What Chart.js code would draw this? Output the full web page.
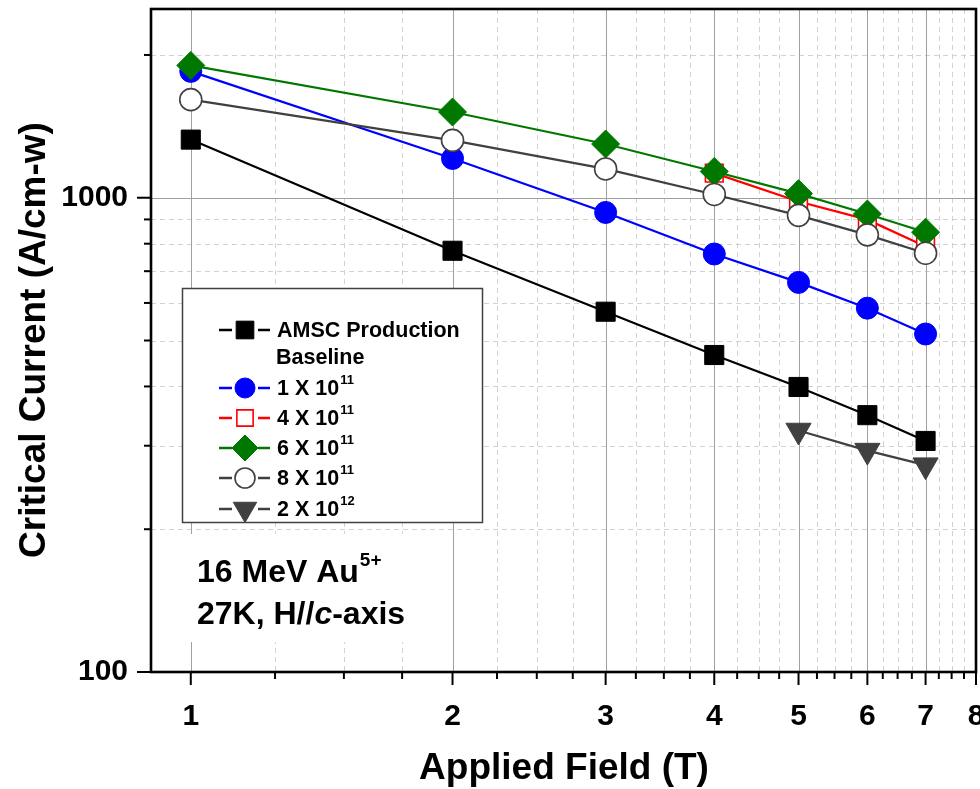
<!DOCTYPE html>
<html><head><meta charset="utf-8">
<script src="https://cdn.jsdelivr.net/npm/chart.js@4/dist/chart.umd.min.js"></script>
<style>html,body{margin:0;padding:0;background:#fff;}#wrap{width:980px;height:789px;position:relative;}</style>
</head><body><div id="wrap"><canvas id="c" width="980" height="789"></canvas></div>
<script>
// ---- data ----
const fields = [1, 2, 3, 4, 5, 6, 7];
const fields4e11 = [4, 5, 6, 7];
const fields2e12 = [5, 6, 7];
const amscBaseline = [1326, 773, 575, 466, 399, 348, 307];
const dose1e11 = [1847, 1210, 931, 761, 663, 585, 516];
const dose4e11 = [1127, 982, 899, 789];
const dose6e11 = [1901, 1516, 1298, 1136, 1020, 924, 846];
const dose8e11 = [1610, 1321, 1150, 1016, 918, 835, 764];
const dose2e12 = [323, 293, 273];
const xTickValues = [1, 2, 3, 4, 5, 6, 7, 8];
const yTickValues = [100, 1000];
const yMinorValues = [200, 300, 400, 500, 600, 700, 800, 900, 2000];
const xMinorValues = [];
for (let i = 1; i < 8; i++) { [0.25, 0.5, 0.75].forEach(f => xMinorValues.push(i + f)); }

const FONT = '"Liberation Sans", Arial, Helvetica, sans-serif';
const pts = (xs, ys) => xs.map((v, i) => ({x: v, y: ys[i]}));

const series = [
  {label: 'AMSC Production', label2: 'Baseline', data: pts(fields, amscBaseline), color: '#000000', fill: '#000000', style: 'rect', r: 13.5, bw: 1, rot: 0},
  {label: '1 X 10', sup: '11', data: pts(fields, dose1e11), color: '#0000ff', fill: '#0000ff', style: 'circle', r: 11, bw: 1, rot: 0},
  {label: '4 X 10', sup: '11', data: pts(fields4e11, dose4e11), color: '#ff0000', fill: '#ffffff', style: 'rect', r: 12.5, bw: 1.6, rot: 0},
  {label: '6 X 10', sup: '11', data: pts(fields, dose6e11), color: '#007800', fill: '#007800', style: 'rectRot', r: 14, bw: 1, rot: 0},
  {label: '8 X 10', sup: '11', data: pts(fields, dose8e11), color: '#404040', fill: '#ffffff', style: 'circle', r: 11, bw: 1.6, rot: 0},
  {label: '2 X 10', sup: '12', data: pts(fields2e12, dose2e12), color: '#404040', fill: '#404040', style: 'triangle', r: 14.5, bw: 1, rot: 180}
];

const datasets = series.map((s, i) => ({
  label: s.label,
  data: s.data,
  showLine: true,
  borderColor: s.color,
  borderWidth: 2.2,
  pointStyle: s.style,
  pointRadius: s.r,
  pointHoverRadius: s.r,
  pointRotation: s.rot,
  pointBackgroundColor: s.fill,
  pointBorderColor: s.color,
  pointBorderWidth: s.bw,
  order: series.length - i,
  clip: false
}));

function seg(ctx, x1, y1, x2, y2) { ctx.beginPath(); ctx.moveTo(x1, y1); ctx.lineTo(x2, y2); ctx.stroke(); }

const framePlugin = {
  id: 'frame',
  beforeDatasetsDraw(chart) {
    const {ctx, chartArea: a, scales: {x, y}} = chart;
    ctx.save();
    ctx.lineWidth = 1;
    ctx.strokeStyle = '#d2d2d2';
    ctx.setLineDash([5, 4]);
    xMinorValues.forEach(v => { const p = Math.round(x.getPixelForValue(v)) + 0.5; seg(ctx, p, a.top, p, a.bottom); });
    yMinorValues.forEach(v => { const p = Math.round(y.getPixelForValue(v)) + 0.5; seg(ctx, a.left, p, a.right, p); });
    ctx.setLineDash([]);
    ctx.strokeStyle = '#a0a0a0';
    xTickValues.slice(0, 7).forEach(v => { const p = Math.round(x.getPixelForValue(v)) + 0.5; seg(ctx, p, a.top, p, a.bottom); });
    { const p = Math.round(y.getPixelForValue(1000)) + 0.5; seg(ctx, a.left, p, a.right, p); }
    // white box behind annotation text
    ctx.fillStyle = '#ffffff';
    ctx.fillRect(184, 534, 240, 108);
    // ticks
    ctx.strokeStyle = '#000';
    ctx.lineWidth = 2;
    xTickValues.forEach(v => { const p = x.getPixelForValue(v); seg(ctx, p, a.bottom, p, a.bottom + 13); });
    xMinorValues.forEach(v => { const p = x.getPixelForValue(v); seg(ctx, p, a.bottom, p, a.bottom + 7); });
    yTickValues.forEach(v => { const p = y.getPixelForValue(v); seg(ctx, a.left, p, a.left - 14, p); });
    yMinorValues.forEach(v => { const p = y.getPixelForValue(v); seg(ctx, a.left, p, a.left - 7, p); });
    ctx.restore();
  },
  afterDatasetsDraw(chart) {
    const {ctx, chartArea: a} = chart;
    ctx.save();
    // frame
    ctx.strokeStyle = '#000';
    ctx.lineWidth = 2.6;
    ctx.strokeRect(a.left, a.top, a.right - a.left, a.bottom - a.top);
    // legend
    ctx.fillStyle = '#fff';
    ctx.fillRect(182, 288, 300, 234);
    ctx.strokeStyle = '#404040';
    ctx.lineWidth = 1.5;
    ctx.strokeRect(182.5, 288.5, 300, 234);
    const rows = [330, 388, 418, 448, 478, 509];
    series.forEach((s, i) => {
      const yy = rows[i];
      ctx.strokeStyle = s.color;
      ctx.lineWidth = 2.5;
      seg(ctx, 219, yy, 232, yy);
      seg(ctx, 258, yy, 270, yy);
      ctx.fillStyle = s.fill;
      ctx.strokeStyle = s.color;
      ctx.lineWidth = s.bw;
      Chart.helpers.drawPoint(ctx, {pointStyle: s.style, radius: s.r - 1, rotation: s.rot, borderWidth: s.bw}, 245, yy);
      ctx.fillStyle = '#000';
      ctx.textBaseline = 'middle';
      ctx.textAlign = 'left';
      ctx.font = 'bold 21.5px ' + FONT;
      ctx.fillText(s.label, 277, yy + 1);
      if (s.label2) ctx.fillText(s.label2, 276, 358);
      if (s.sup) {
        const w = ctx.measureText(s.label).width;
        ctx.font = 'bold 13px ' + FONT;
        ctx.fillText(s.sup, 277 + w + 1, yy - 8);
      }
    });
    // annotation
    ctx.fillStyle = '#000';
    ctx.textBaseline = 'alphabetic';
    ctx.font = 'bold 32px ' + FONT;
    const t1 = '16 MeV Au';
    ctx.fillText(t1, 197, 582);
    const w1 = ctx.measureText(t1).width;
    ctx.font = 'bold 19px ' + FONT;
    ctx.fillText('5+', 197 + w1 + 1, 566);
    ctx.font = 'bold 32px ' + FONT;
    let xx = 197;
    const p1 = '27K, H//';
    ctx.fillText(p1, xx, 624); xx += ctx.measureText(p1).width;
    ctx.font = 'italic bold 32px ' + FONT;
    ctx.fillText('c', xx, 624); xx += ctx.measureText('c').width;
    ctx.font = 'bold 32px ' + FONT;
    ctx.fillText('-axis', xx, 624);
    // axis titles
    ctx.font = 'bold 37px ' + FONT;
    ctx.textAlign = 'center';
    ctx.fillText('Applied Field (T)', 564, 779);
    ctx.translate(45, 340);
    ctx.rotate(-Math.PI / 2);
    ctx.fillText('Critical Current (A/cm-w)', 0, 0);
    ctx.restore();
  }
};

new Chart(document.getElementById('c'), {
  type: 'scatter',
  data: {datasets},
  plugins: [framePlugin],
  options: {
    responsive: false,
    animation: false,
    devicePixelRatio: 1,
    layout: {autoPadding: false, padding: {top: 9, right: 4, left: 0, bottom: 0}},
    plugins: {legend: {display: false}, tooltip: {enabled: false}},
    scales: {
      x: {
        type: 'logarithmic', min: 0.9, max: 8,
        grid: {display: false, drawTicks: false},
        border: {display: false},
        afterBuildTicks: s => { s.ticks = xTickValues.map(v => ({value: v})); },
        afterFit: s => { s.height = 117; s.paddingLeft = 0; s.paddingRight = 0; },
        ticks: {
          autoSkip: false, maxRotation: 0, padding: 27, color: '#000',
          font: {family: FONT, size: 30, weight: 'bold'},
          callback: v => String(v)
        }
      },
      y: {
        type: 'logarithmic', min: 100, max: 2500,
        grid: {display: false, drawTicks: false},
        border: {display: false},
        afterBuildTicks: s => { s.ticks = yTickValues.map(v => ({value: v})); },
        afterFit: s => { s.width = 151; s.paddingTop = 0; s.paddingBottom = 0; },
        ticks: {
          autoSkip: false, padding: 23, color: '#000',
          font: {family: FONT, size: 30, weight: 'bold'},
          callback: v => String(v)
        }
      }
    }
  }
});
</script>
</body></html>
